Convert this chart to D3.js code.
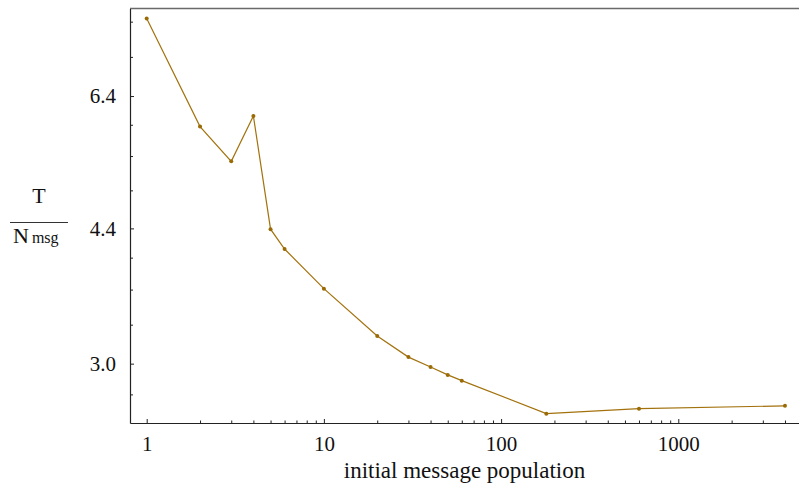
<!DOCTYPE html>
<html>
<head>
<meta charset="utf-8">
<script src="https://cdn.jsdelivr.net/npm/d3@7"></script>
<style>
  html, body { margin: 0; padding: 0; background: #fff; }
  svg { display: block; }
  svg text { font-family: 'Liberation Serif', 'DejaVu Serif', 'Times New Roman', Times, serif; fill: #111; }
</style>
</head>
<body>
<svg id="chart" width="799" height="490"></svg>
<script>
// ---- data ----
const population = [1, 2, 3, 4, 5, 6, 10, 20, 30, 40, 50, 60, 180, 600, 4000];
const timePerMsg = [7.97, 5.87, 5.32, 6.05, 4.39, 4.15, 3.71, 3.245, 3.056, 2.972, 2.906, 2.859, 2.604, 2.641, 2.662];

const xMajorTicks = [1, 10, 100, 1000];
const xMinorTicks = [2, 3, 4, 5, 6, 7, 8, 9, 20, 30, 40, 50, 60, 70, 80, 90,
                     200, 300, 400, 500, 600, 700, 800, 900, 2000, 3000, 4000];
const yMajorTicks = [3.0, 4.4, 6.4];
const yMinorTicks = [2.75, 3.35, 3.7, 4.05, 4.9, 5.4, 5.9, 7.15, 7.9];

const xLabel = "initial message population";

// ---- layout ----
const svg = d3.select("#chart");
const mLeft = 130, mRight = 799, mTop = 8.5, mBottom = 423;
const serif = "'Liberation Serif', 'DejaVu Serif', 'Times New Roman', Times, serif";

const x = d3.scaleLog().domain([0.805, 4800]).range([mLeft, mRight]);
const y = d3.scaleLog().domain([2.536, 8.20]).range([mBottom, mTop]);

const lineColor = "#a3720d";
const axisColor = "#222";

// top frame line
svg.append("line")
  .attr("x1", mLeft).attr("x2", mRight)
  .attr("y1", mTop).attr("y2", mTop)
  .attr("stroke", "#6a6a6a").attr("stroke-width", 1.6);

// x axis
const gx = svg.append("g").attr("transform", `translate(0,${mBottom})`);
gx.call(d3.axisBottom(x).tickValues(xMajorTicks).tickFormat(d3.format("d"))
  .tickSizeInner(-4).tickSizeOuter(0).tickPadding(13));
const gxm = svg.append("g").attr("transform", `translate(0,${mBottom})`);
gxm.call(d3.axisBottom(x).tickValues(xMinorTicks).tickFormat("")
  .tickSizeInner(-2.5).tickSizeOuter(0));
gxm.select(".domain").remove();

// y axis
const gy = svg.append("g").attr("transform", `translate(${mLeft},0)`);
gy.call(d3.axisLeft(y).tickValues(yMajorTicks).tickFormat(d3.format(".1f"))
  .tickSizeInner(-4).tickSizeOuter(0).tickPadding(14));
const gym = svg.append("g").attr("transform", `translate(${mLeft},0)`);
gym.call(d3.axisLeft(y).tickValues(yMinorTicks).tickFormat("")
  .tickSizeInner(-3).tickSizeOuter(0));
gym.select(".domain").remove();

svg.selectAll("g").attr("font-family", serif);
svg.selectAll(".domain").attr("stroke", axisColor).attr("stroke-width", 1.2);
svg.selectAll(".tick line").attr("stroke", axisColor).attr("stroke-width", 1);
svg.selectAll(".tick text")
  .attr("font-family", serif)
  .attr("font-size", 21).attr("fill", "#111");

// line
const line = d3.line()
  .x((d, i) => x(population[i]))
  .y(d => y(d));
svg.append("path")
  .datum(timePerMsg)
  .attr("fill", "none")
  .attr("stroke", lineColor)
  .attr("stroke-width", 1.2)
  .attr("d", line);

svg.append("g").selectAll("circle")
  .data(timePerMsg)
  .join("circle")
  .attr("cx", (d, i) => x(population[i]))
  .attr("cy", d => y(d))
  .attr("r", 2)
  .attr("fill", "#9a6a05");

// x label
svg.append("text")
  .attr("x", (mLeft + mRight) / 2)
  .attr("y", 478)
  .attr("text-anchor", "middle")
  .attr("font-family", serif)
  .attr("font-size", 23)
  .text(xLabel);

// y label: T / N_msg
const yl = svg.append("g").attr("font-family", serif);
yl.append("text").attr("x", 39).attr("y", 203).attr("text-anchor", "middle")
  .attr("font-size", 22).text("T");
yl.append("line").attr("x1", 10).attr("x2", 68).attr("y1", 222.5).attr("y2", 222.5)
  .attr("stroke", "#333").attr("stroke-width", 1.2);
const nt = yl.append("text").attr("x", 13).attr("y", 243).attr("font-size", 22);
nt.append("tspan").text("N");
nt.append("tspan").attr("dx", 3).attr("font-size", 16).text("msg");
</script>
</body>
</html>
